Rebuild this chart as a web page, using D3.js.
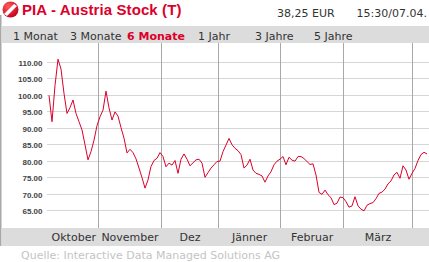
<!DOCTYPE html>
<html>
<head>
<meta charset="utf-8">
<script src="https://cdn.jsdelivr.net/npm/d3@7"></script>
<style>
  body { margin: 0; background: #fff; }
  svg { display: block; }
  text { font-family: "DejaVu Sans", sans-serif; }
</style>
</head>
<body>
<svg width="429" height="262"></svg>
<script>
// closing prices, one per trading day (Oct .. 07.04.)
var values = [
  100.0, 92.0, 103.0, 111.0, 108.0, 100.6, 94.5, 96.3, 98.6, 94.5,
  92.0, 89.5, 85.0, 80.4, 82.9, 86.4, 90.8, 93.5, 95.5, 101.3,
  96.2, 92.5, 95.0, 93.7, 90.2, 87.0, 82.5, 83.6, 82.6, 80.7,
  77.9, 75.0, 71.8, 74.3, 78.4, 80.2, 80.9, 82.6, 81.4, 78.3,
  79.4, 78.8, 80.2, 76.3, 80.6, 82.2, 80.6, 78.6, 79.5, 80.4,
  80.6, 79.4, 75.1, 76.5, 77.9, 78.9, 79.9, 80.0, 82.9, 84.9,
  86.9, 85.0, 83.9, 83.2, 82.0, 77.9, 78.8, 80.6, 77.3, 76.3,
  76.0, 75.5, 73.6, 75.5, 76.8, 78.9, 80.0, 80.6, 81.4, 78.9,
  81.2, 80.3, 80.0, 81.4, 81.4, 80.8, 79.9, 79.0, 79.2, 75.8,
  70.5, 69.9, 71.2, 69.8, 68.9, 66.8, 67.2, 69.1, 68.9, 67.7,
  66.0, 66.4, 69.2, 66.4, 65.4, 64.9, 66.6, 67.1, 67.4, 68.6,
  70.2, 70.6, 71.5, 73.1, 74.0, 75.8, 76.6, 74.8, 78.6, 77.3,
  74.5, 76.3, 77.8, 80.2, 82.0, 82.7, 82.2
];

var monthNames = ['Oktober', 'November', 'Dez', 'Jänner', 'Februar', 'März'];
// trading-day index where each new month begins (Nov .. Apr)
var monthStarts = [16.5, 37.5, 56.5, 77.2, 98.2, 121.2];

var yTicks = [65, 70, 75, 80, 85, 90, 95, 100, 105, 110];
var tabs = ['1 Monat', '3 Monate', '6 Monate', '1 Jahr', '3 Jahre', '5 Jahre'];
var activeTab = '6 Monate';

var title = 'PIA - Austria Stock (T)';
var quote = '38,25 EUR';
var stamp = '15:30/07.04.';
var source = 'Quelle: Interactive Data Managed Solutions AG';

var red = '#dc002b';
var svg = d3.select('svg');

var x = d3.scaleLinear().domain([0, values.length - 1]).range([49, 427]);
var y = d3.scaleLinear().domain([65, 110]).range([210.5, 62.5]);

drawHeader();
drawTabs();
drawGrid();
drawLine();
drawFooter();

function drawHeader() {
  // logo
  var defs = svg.append('defs');
  var g = defs.append('radialGradient').attr('id', 'logoGrad')
    .attr('cx', '35%').attr('cy', '30%').attr('r', '75%');
  g.append('stop').attr('offset', '0%').attr('stop-color', '#ff5a5a');
  g.append('stop').attr('offset', '100%').attr('stop-color', '#c0001c');
  defs.append('clipPath').attr('id', 'logoClip')
    .append('circle').attr('cx', 10.5).attr('cy', 9.5).attr('r', 8);

  svg.append('circle')
    .attr('cx', 10.5).attr('cy', 9.5).attr('r', 8)
    .attr('fill', 'url(#logoGrad)');
  svg.append('path')
    .attr('clip-path', 'url(#logoClip)')
    .attr('d', 'M4,14 L14,4 L17,6 L7,16 Z')
    .attr('fill', '#fff');

  svg.append('text')
    .attr('x', 22).attr('y', 15)
    .style('font-family', '"Liberation Sans", Arial, sans-serif')
    .style('font-weight', 'bold')
    .style('font-size', '15px')
    .style('letter-spacing', '0.1px')
    .attr('fill', red)
    .text(title);

  svg.append('text')
    .attr('x', 277).attr('y', 17)
    .style('font-size', '11px')
    .attr('fill', '#333')
    .text(quote);

  svg.append('text')
    .attr('x', 427).attr('y', 17)
    .attr('text-anchor', 'end')
    .style('font-size', '11px')
    .attr('fill', '#333')
    .text(stamp);

  // left border
  svg.append('rect')
    .attr('x', 0).attr('y', 15).attr('width', 1.5).attr('height', 231)
    .attr('fill', '#a8a8a8');
}

function drawTabs() {
  svg.append('rect')
    .attr('x', 1.5).attr('y', 26).attr('width', 428).attr('height', 17)
    .attr('fill', '#dcdcdc');

  var tabX = [13, 70, 127, 198, 255, 314];
  svg.selectAll('.tab')
    .data(tabs)
    .enter().append('text')
    .attr('class', 'tab')
    .attr('x', function(d, i) { return tabX[i]; })
    .attr('y', 40)
    .style('font-size', '11px')
    .style('font-weight', function(d) { return d === activeTab ? 'bold' : 'normal'; })
    .attr('fill', function(d) { return d === activeTab ? red : '#333'; })
    .text(function(d) { return d; });
}

function drawGrid() {
  svg.selectAll('.hgrid')
    .data(yTicks)
    .enter().append('line')
    .attr('class', 'hgrid')
    .attr('x1', 47).attr('x2', 429)
    .attr('y1', function(d) { return Math.floor(y(d)) + 0.5; })
    .attr('y2', function(d) { return Math.floor(y(d)) + 0.5; })
    .attr('stroke', '#d6d6d6')
    .attr('stroke-width', 1);

  svg.selectAll('.ylab')
    .data(yTicks)
    .enter().append('text')
    .attr('class', 'ylab')
    .attr('x', 42.5)
    .attr('y', function(d) { return Math.floor(y(d)) + 3.5; })
    .attr('text-anchor', 'end')
    .style('font-family', '"Liberation Sans", Arial, sans-serif')
    .style('font-weight', 'bold')
    .style('font-size', '8px')
    .attr('fill', '#444')
    .text(function(d) { return d3.format('.2f')(d); });

  svg.selectAll('.vgrid')
    .data(monthStarts)
    .enter().append('line')
    .attr('class', 'vgrid')
    .attr('x1', function(d) { return Math.floor(x(d)) + 0.5; })
    .attr('x2', function(d) { return Math.floor(x(d)) + 0.5; })
    .attr('y1', 43).attr('y2', 228)
    .attr('stroke', '#a8a8a8')
    .attr('stroke-width', 1);
}

function drawLine() {
  var line = d3.line()
    .x(function(d, i) { return x(i); })
    .y(function(d) { return y(d); });

  svg.append('path')
    .datum(values)
    .attr('d', line)
    .attr('fill', 'none')
    .attr('stroke', red)
    .attr('stroke-width', 1)
    .attr('stroke-linejoin', 'round');
}

function drawFooter() {
  svg.append('rect')
    .attr('x', 1.5).attr('y', 228).attr('width', 428).attr('height', 18)
    .attr('fill', '#dcdcdc');

  var edges = [x.domain()[0]].concat(monthStarts);
  svg.selectAll('.month')
    .data(monthNames)
    .enter().append('text')
    .attr('class', 'month')
    .attr('x', function(d, i) { return (x(edges[i]) + x(edges[i + 1])) / 2; })
    .attr('y', 241)
    .attr('text-anchor', 'middle')
    .style('font-size', '11px')
    .attr('fill', '#333')
    .text(function(d) { return d; });

  svg.append('text')
    .attr('x', 21).attr('y', 259)
    .style('font-size', '11px')
    .attr('fill', '#c4c4c4')
    .text(source);
}
</script>
</body>
</html>
